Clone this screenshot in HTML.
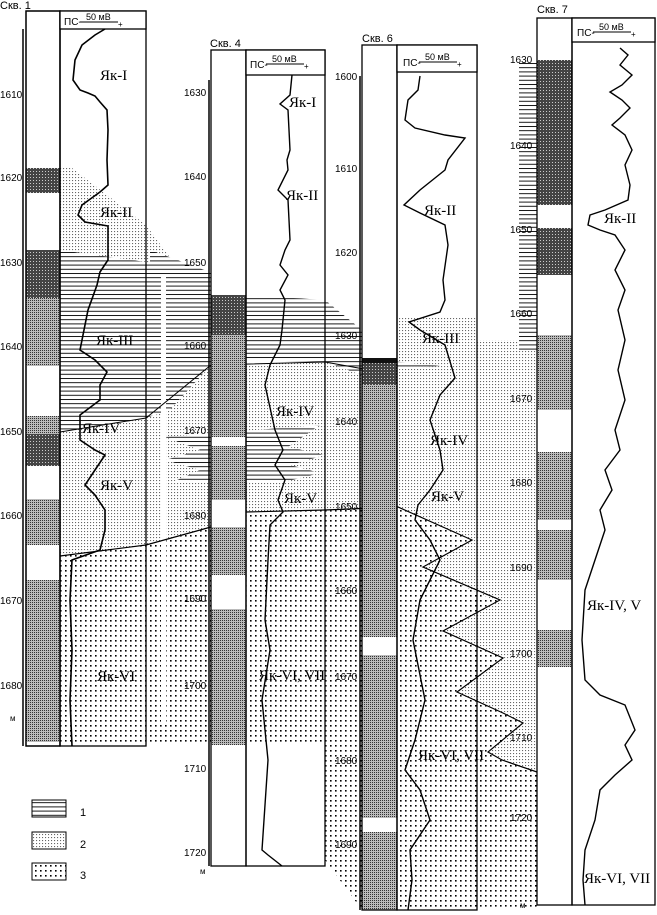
<!DOCTYPE html>
<html><head><meta charset="utf-8"><style>
html,body{margin:0;padding:0;background:#fff}
svg{display:block}
text{font-family:"Liberation Sans",sans-serif;fill:#000}
.s{font-family:"Liberation Serif",serif;font-size:15px}
.d{font-size:10px}
</style></head><body>
<svg width="657" height="915" viewBox="0 0 657 915" xmlns="http://www.w3.org/2000/svg">
<defs>
<pattern id="h" width="8" height="4.2" patternUnits="userSpaceOnUse"><rect width="8" height="4.2" fill="#fff"/><line x1="0" y1="0.5" x2="8" y2="0.5" stroke="#000" stroke-width="0.9"/></pattern>
<pattern id="f" width="3" height="3" patternUnits="userSpaceOnUse"><rect width="3" height="3" fill="#fff"/><rect width="1.1" height="1.1" fill="#666"/></pattern>
<pattern id="c" width="5" height="5" patternUnits="userSpaceOnUse"><rect width="5" height="5" fill="#fff"/><rect width="1.6" height="1.6" fill="#000"/></pattern>
<pattern id="l" width="2" height="2" patternUnits="userSpaceOnUse"><rect width="2" height="2" fill="#bbb"/><rect width="1" height="1" fill="#333"/></pattern>
<pattern id="k" width="3" height="3" patternUnits="userSpaceOnUse"><rect width="3" height="3" fill="#444"/><rect width="1" height="1" fill="#ccc"/></pattern>
</defs>

<polygon fill="url(#f)" points="60,168 72,168 146,225 185,278 146,262 60,250"/>
<polygon fill="url(#h)" points="60,250 146,262 175,275 211,295 246,295 325,300 362,330 362,375 325,362 246,360 211,365 170,410 146,418 60,432"/>
<polygon fill="url(#f)" points="60,432 146,418 170,410 211,365 325,362 362,375 397,375 397,318 477,318 477,340 537,340 537,772 502,760 488,752 523,723 503,713 457,692 503,658 443,631 500,600 493,600 423,567 472,540 398,507 362,510 325,510 246,512 211,527 146,545 60,556"/>
<polygon fill="url(#c)" points="60,556 146,545 211,527 246,512 325,510 362,510 398,507 472,540 423,567 493,600 500,600 443,631 503,658 457,692 503,713 523,723 488,752 502,760 537,772 537,910 362,910 325,860 325,745 60,745"/>
<polygon fill="url(#h)" points="165,437 320,425 288,447 325,455 290,465 320,473 280,483 170,483 200,470 165,460 200,450"/>
<polygon fill="url(#h)" points="362,358 440,366 362,372"/>
<polygon fill="url(#h)" points="150,250 210,272 230,300 150,320"/>
<rect x="519" y="60" width="18" height="290" fill="url(#h)"/>
<rect x="161" y="275" width="5" height="450" fill="#fff"/>
<polyline fill="none" stroke="#000" stroke-width="1.2" points="60,556 146,545 211,527 246,512 325,510 398,507 472,540 423,567 500,600 443,631 503,658 457,692 503,713 523,723 488,752 502,760 537,772"/>
<polyline fill="none" stroke="#000" stroke-width="1" points="60,432 146,418 211,365 325,362 397,375"/>

<text x="0" y="9" font-size="11">Скв. 1</text>
<rect x="26" y="11" width="34" height="735" fill="#fff" stroke="#000" stroke-width="1.3"/>
<rect x="26" y="168" width="34" height="25" fill="url(#k)"/>
<rect x="26" y="250" width="34" height="48" fill="url(#k)"/>
<rect x="26" y="298" width="34" height="68" fill="url(#l)"/>
<rect x="26" y="416" width="34" height="18" fill="url(#l)"/>
<rect x="26" y="434" width="34" height="32" fill="url(#k)"/>
<rect x="26" y="499" width="34" height="46" fill="url(#l)"/>
<rect x="26" y="580" width="34" height="162" fill="url(#l)"/>
<rect x="26" y="11" width="34" height="735" fill="none" stroke="#000" stroke-width="1.3"/>
<rect x="60" y="11" width="86" height="735" fill="none" stroke="#000" stroke-width="1.3"/>
<rect x="60" y="11" width="86" height="18" fill="#fff" stroke="#000" stroke-width="1.3"/>
<line x1="23" y1="29" x2="23" y2="746" stroke="#000" stroke-width="1.5"/>
<g class="d"><text x="0" y="98">1610</text><text x="0" y="181">1620</text><text x="0" y="266">1630</text><text x="0" y="350">1640</text><text x="0" y="435">1650</text><text x="0" y="519">1660</text><text x="0" y="604">1670</text><text x="0" y="689">1680</text><text x="10" y="721" font-size="8">м</text></g>
<polyline fill="none" stroke="#000" stroke-width="1.6" points="105,29 95,35 82,45 75,60 73,80 80,90 88,93 95,96 100,102 107,110 108,130 107,160 108,185 100,192 82,205 78,215 85,222 108,226 108,260 100,272 97,285 88,310 80,350 95,360 107,372 100,385 100,400 80,415 80,440 95,450 105,455 95,470 85,485 95,495 105,510 105,530 100,550 72,560 70,600 72,650 70,700 72,746"/>
<text class="s" x="100" y="80">Як-I</text><text class="s" x="100" y="217">Як-II</text><text class="s" x="96" y="345">Як-III</text><text class="s" x="82" y="433">Як-IV</text><text class="s" x="100" y="490">Як-V</text><text class="s" x="97" y="681">Як-VI</text>

<text x="210" y="47" font-size="11">Скв. 4</text>
<rect x="211" y="50" width="35" height="816" fill="#fff"/>
<rect x="211" y="295" width="35" height="40" fill="url(#k)"/>
<rect x="211" y="335" width="35" height="102" fill="url(#l)"/>
<rect x="211" y="446" width="35" height="54" fill="url(#l)"/>
<rect x="211" y="527" width="35" height="48" fill="url(#l)"/>
<rect x="211" y="609" width="35" height="136" fill="url(#l)"/>
<rect x="211" y="50" width="35" height="816" fill="none" stroke="#000" stroke-width="1.3"/>
<rect x="246" y="50" width="79" height="816" fill="none" stroke="#000" stroke-width="1.3"/>
<rect x="246" y="50" width="79" height="25" fill="#fff" stroke="#000" stroke-width="1.3"/>
<line x1="209" y1="80" x2="209" y2="866" stroke="#000" stroke-width="1.5"/>
<g class="d"><text x="184" y="96">1630</text><text x="184" y="180">1640</text><text x="184" y="266">1650</text><text x="184" y="349">1660</text><text x="184" y="434">1670</text><text x="184" y="519">1680</text><text x="184" y="602">1690</text><text x="184" y="689">1700</text><text x="184" y="772">1710</text><text x="184" y="856">1720</text><text x="200" y="874" font-size="8">м</text></g>
<polyline fill="none" stroke="#000" stroke-width="1.4" points="292,75 290,95 280,104 288,110 290,150 287,160 288,170 278,190 288,200 290,240 285,250 280,265 288,275 280,290 285,300 282,330 280,345 270,365 265,385 275,430 283,450 275,465 285,480 278,500 283,512 270,525 268,560 265,620 270,650 262,700 268,760 262,850 268,855 282,866"/>
<text class="s" x="289" y="107">Як-I</text><text class="s" x="286" y="200">Як-II</text><text class="s" x="276" y="416">Як-IV</text><text class="s" x="284" y="503">Як-V</text><text class="s" x="259" y="680">Як-VI, VII</text>

<text x="362" y="42" font-size="11">Скв. 6</text>
<rect x="362" y="45" width="35" height="865" fill="#fff"/>
<rect x="362" y="358" width="35" height="27" fill="url(#k)"/>
<rect x="362" y="385" width="35" height="252" fill="url(#l)"/>
<rect x="362" y="655" width="35" height="163" fill="url(#l)"/>
<rect x="362" y="832" width="35" height="78" fill="url(#l)"/>
<rect x="362" y="358" width="35" height="5" fill="#111"/>
<rect x="362" y="45" width="35" height="865" fill="none" stroke="#000" stroke-width="1.3"/>
<rect x="397" y="45" width="80" height="865" fill="none" stroke="#000" stroke-width="1.3"/>
<rect x="397" y="45" width="80" height="27" fill="#fff" stroke="#000" stroke-width="1.3"/>
<line x1="360" y1="76" x2="360" y2="910" stroke="#000" stroke-width="1.5"/>
<g class="d"><text x="335" y="80">1600</text><text x="335" y="172">1610</text><text x="335" y="256">1620</text><text x="335" y="339">1630</text><text x="335" y="425">1640</text><text x="335" y="510">1650</text><text x="335" y="594">1660</text><text x="335" y="680">1670</text><text x="335" y="764">1680</text><text x="335" y="848">1690</text></g>
<polyline fill="none" stroke="#000" stroke-width="1.4" points="420,76 418,90 408,100 405,120 415,128 445,135 465,138 448,160 445,170 420,190 404,205 420,213 445,225 448,245 443,280 445,300 440,312 409,322 420,330 445,345 455,378 440,395 430,420 440,450 443,470 430,490 418,505 415,520 430,540 440,560 420,600 413,640 425,700 415,740 405,770 420,790 430,820 410,850 412,880 408,910"/>
<text class="s" x="424" y="215">Як-II</text><text class="s" x="422" y="343">Як-III</text><text class="s" x="430" y="445">Як-IV</text><text class="s" x="431" y="501">Як-V</text><text class="s" x="418" y="760">Як-VI, VII</text>

<text x="537" y="13" font-size="11">Скв. 7</text>
<rect x="537" y="18" width="35" height="887" fill="#fff"/>
<rect x="537" y="60" width="35" height="145" fill="url(#k)"/>
<rect x="537" y="228" width="35" height="47" fill="url(#k)"/>
<rect x="537" y="335" width="35" height="75" fill="url(#l)"/>
<rect x="537" y="452" width="35" height="68" fill="url(#l)"/>
<rect x="537" y="530" width="35" height="50" fill="url(#l)"/>
<rect x="537" y="630" width="35" height="37" fill="url(#l)"/>
<rect x="537" y="18" width="35" height="887" fill="none" stroke="#000" stroke-width="1.3"/>
<rect x="572" y="18" width="83" height="887" fill="none" stroke="#000" stroke-width="1.3"/>
<rect x="572" y="18" width="83" height="24" fill="#fff" stroke="#000" stroke-width="1.3"/>
<g class="d"><text x="510" y="63">1630</text><text x="510" y="149">1640</text><text x="510" y="233">1650</text><text x="510" y="317">1660</text><text x="510" y="402">1670</text><text x="510" y="486">1680</text><text x="510" y="571">1690</text><text x="510" y="657">1700</text><text x="510" y="741">1710</text><text x="510" y="821">1720</text><text x="520" y="908" font-size="8">м</text></g>
<polyline fill="none" stroke="#000" stroke-width="1.4" points="620,48 628,55 620,65 632,75 622,85 610,92 622,100 630,108 620,118 612,125 625,135 632,150 625,165 630,185 628,200 605,210 590,215 588,225 600,230 615,235 625,250 615,270 625,290 618,310 625,340 618,370 625,400 615,430 620,450 605,470 612,490 600,510 605,530 595,560 585,590 582,640 585,680 600,695 625,705 635,730 625,745 632,760 615,775 600,790 595,820 585,850 583,880 585,905"/>
<text class="s" x="604" y="223">Як-II</text><text class="s" x="587" y="610">Як-IV, V</text><text class="s" x="584" y="883">Як-VI, VII</text>

<g font-size="10">
<text x="64" y="25">ПС-</text><text x="86" y="20" font-size="9">50 мВ</text><line x1="80" y1="22" x2="118" y2="22" stroke="#000"/><text x="118" y="27" font-size="8">+</text>
<text x="250" y="68">ПС-</text><text x="272" y="62" font-size="9">50 мВ</text><line x1="266" y1="64" x2="304" y2="64" stroke="#000"/><text x="304" y="69" font-size="8">+</text>
<text x="403" y="66">ПС-</text><text x="425" y="60" font-size="9">50 мВ</text><line x1="419" y1="62" x2="457" y2="62" stroke="#000"/><text x="457" y="67" font-size="8">+</text>
<text x="577" y="36">ПС-</text><text x="599" y="30" font-size="9">50 мВ</text><line x1="593" y1="32" x2="631" y2="32" stroke="#000"/><text x="631" y="37" font-size="8">+</text>
</g>

<rect x="32" y="800" width="34" height="17" fill="url(#h)" stroke="#000"/>
<rect x="32" y="832" width="34" height="17" fill="url(#f)" stroke="#000"/>
<rect x="32" y="863" width="34" height="17" fill="url(#c)" stroke="#000"/>
<text x="80" y="816" font-size="11">1</text><text x="80" y="848" font-size="11">2</text><text x="80" y="879" font-size="11">3</text>
</svg>
</body></html>
